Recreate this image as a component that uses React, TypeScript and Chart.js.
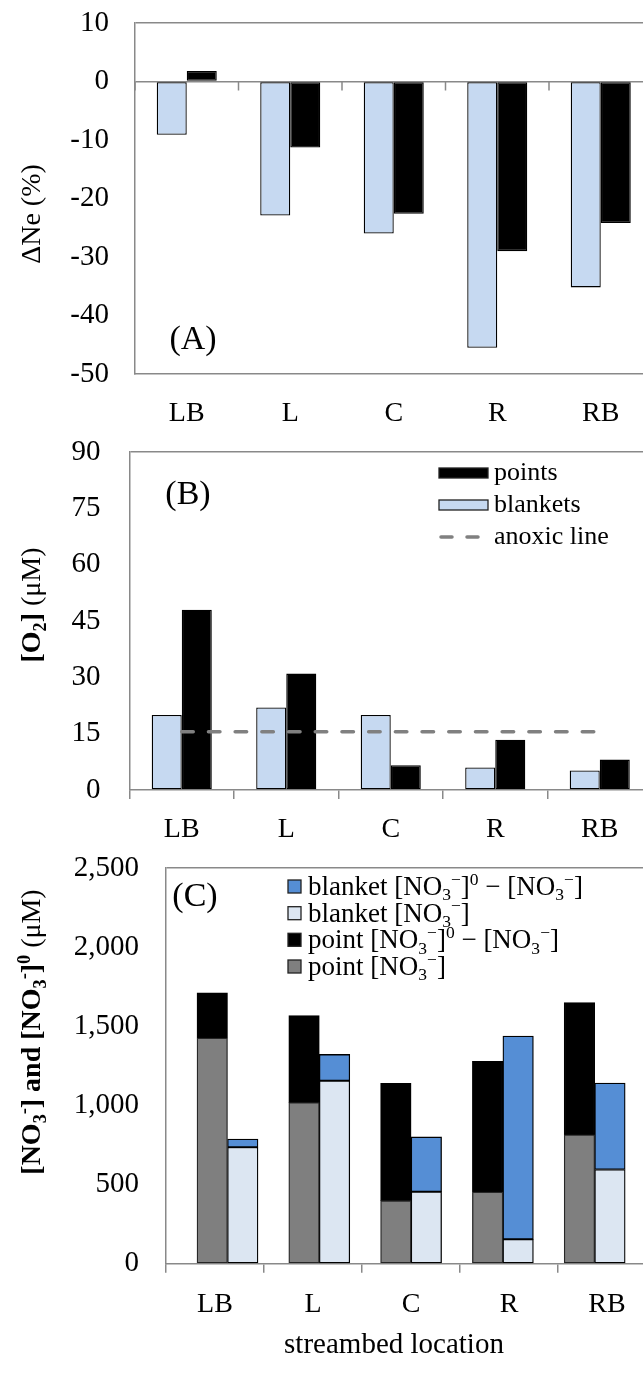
import React, { useEffect, useRef } from 'react';
import { Chart, registerables } from 'chart.js';

Chart.register(...registerables);

// ---------- data ----------
const categories = ['LB', 'L', 'C', 'R', 'RB'];

// Panel A: ΔNe (%)
const neBlankets = [-9.1, -22.9, -26.0, -45.5, -35.2];
const nePoints = [1.8, -11.3, -22.6, -29.0, -24.2];

// Panel B: [O2] (µM)
const o2Blankets = [20.0, 22.0, 20.0, 6.0, 5.2];
const o2Points = [48.0, 31.0, 6.6, 13.4, 8.1];
const anoxicLine = [15.5, 15.5, 15.5, 15.5, 15.5];

// Panel C: nitrate (µM), stacked
const pointNO3 = [1425, 1018, 398, 453, 814];
const pointRemoved = [287, 549, 741, 825, 835];
const blanketNO3 = [736, 1156, 455, 154, 595];
const blanketRemoved = [51, 166, 346, 1284, 546];

// axis ranges
const neRange = { min: -50, max: 10, step: 10 };
const o2Range = { min: 0, max: 90, step: 15 };
const no3Range = { min: 0, max: 2500, step: 500 };
// bar-position axis of panel C (bars sit on a slightly narrower band than the labels)
const no3BarAxis = { min: -0.67, max: 4.668 };

// labels
const titleA = [{ text: 'ΔNe (%)', bold: false }];
const titleB = [{ text: '[O₂]', bold: true }, { text: ' (μM)', bold: false }];
const titleC = [{ text: '[NO₃⁻] and [NO₃⁻]⁰', bold: true }, { text: ' (μM)', bold: false }];
const xTitleC = 'streambed location';

// ---------- style ----------
const SERIF = '"Liberation Serif", "Times New Roman", serif';
const LIGHT_BLUE = '#C6D9F1';
const BLUE = '#558ED5';
const PALE = '#DCE6F2';
const GRAY_BAR = '#7F7F7F';
const AXIS = '#898989';
const DASH = '#808080';
const TICK_SIZE = 29;
const CAT_SIZE = 28;
const TRANSPARENT = 'rgba(0,0,0,0)';

const SUBS = '₀₁₂₃₄₅₆₇₈₉';
const SUPS = '⁰¹²³⁴⁵⁶⁷⁸⁹';

type Part = { text: string; bold: boolean };

function runsOf(text: string, minus: string) {
  const runs: { t: string; k: number }[] = [];
  for (const ch of text) {
    let k = 0;
    let c = ch;
    const si = SUBS.indexOf(ch);
    const pi = SUPS.indexOf(ch);
    if (si >= 0) { k = 1; c = String(si); }
    else if (pi >= 0) { k = 2; c = String(pi); }
    else if (ch === '⁻') { k = 2; c = minus; }
    const last = runs[runs.length - 1];
    if (last && last.k === k) last.t += c;
    else runs.push({ t: c, k });
  }
  return runs;
}

function drawRich(ctx: CanvasRenderingContext2D, parts: Part[], x: number, y: number, size: number, align: 'left' | 'center', minus = '−') {
  const pieces: { t: string; font: string; w: number; dy: number }[] = [];
  let total = 0;
  for (const p of parts) {
    for (const r of runsOf(p.text, minus)) {
      const fs = r.k ? size * 0.65 : size;
      const font = `${p.bold ? 'bold ' : ''}${fs}px ${SERIF}`;
      ctx.font = font;
      const w = ctx.measureText(r.t).width;
      pieces.push({ t: r.t, font, w, dy: r.k === 1 ? size * 0.2 : r.k === 2 ? -size * 0.38 : 0 });
      total += w;
    }
  }
  let cx = align === 'center' ? x - total / 2 : x;
  ctx.textAlign = 'left';
  ctx.textBaseline = 'alphabetic';
  ctx.fillStyle = '#000';
  for (const p of pieces) {
    ctx.font = p.font;
    ctx.fillText(p.t, cx, y + p.dy);
    cx += p.w;
  }
}

function drawVerticalTitle(ctx: CanvasRenderingContext2D, parts: Part[], cx: number, cy: number, size: number, minus: string) {
  ctx.save();
  ctx.translate(cx, cy);
  ctx.rotate(-Math.PI / 2);
  drawRich(ctx, parts, 0, size * 0.33, size, 'center', minus);
  ctx.restore();
}

function drawLetter(ctx: CanvasRenderingContext2D, text: string, cx: number, cy: number) {
  ctx.save();
  ctx.font = `34px ${SERIF}`;
  ctx.fillStyle = '#000';
  ctx.textAlign = 'center';
  ctx.textBaseline = 'middle';
  ctx.fillText(text, cx, cy);
  ctx.restore();
}

function boundaryTicks(chart: any, atValue: number, len: number) {
  const xs = chart.scales.x;
  const ys = chart.scales.y;
  const n = chart.data.labels.length;
  const y0 = ys.getPixelForValue(atValue);
  const ctx = chart.ctx as CanvasRenderingContext2D;
  ctx.save();
  ctx.strokeStyle = AXIS;
  ctx.lineWidth = 1.5;
  for (let i = 0; i <= n; i++) {
    const x = xs.getPixelForValue(i - 0.5);
    ctx.beginPath();
    ctx.moveTo(x, y0);
    ctx.lineTo(x, y0 + len);
    ctx.stroke();
  }
  ctx.restore();
}

const tickFont = { family: SERIF, size: TICK_SIZE };
const catFont = { family: SERIF, size: CAT_SIZE };

function yGridColor(keep: number[]) {
  return (c: any) => (c.tick && keep.includes(c.tick.value) ? AXIS : TRANSPARENT);
}

function fixY(width: number) {
  return (s: any) => { s.width = width; s.paddingTop = 0; s.paddingBottom = 0; };
}
function fixX(height: number) {
  return (s: any) => { s.height = height; s.paddingLeft = 0; s.paddingRight = 0; };
}

// ---------- panel configs ----------
function configA(): any {
  return {
    type: 'bar',
    data: {
      labels: categories,
      datasets: [
        { label: 'blankets', data: neBlankets, backgroundColor: LIGHT_BLUE, borderColor: '#000', borderWidth: 1.3, borderSkipped: false },
        { label: 'points', data: nePoints, backgroundColor: '#000', borderColor: '#000', borderWidth: 1.3, borderSkipped: false },
      ],
    },
    options: {
      responsive: false,
      animation: false,
      events: [],
      layout: { padding: { top: 23, right: 17.5, left: 0, bottom: 0 } },
      datasets: { bar: { categoryPercentage: 0.58, barPercentage: 1 } },
      plugins: { legend: { display: false }, tooltip: { enabled: false } },
      scales: {
        x: {
          grid: { display: false, drawTicks: false },
          border: { display: true, color: AXIS, width: 1.5 },
          ticks: { font: catFont, color: '#000', padding: 23, maxRotation: 0 },
          afterFit: fixX(56),
        },
        y: {
          min: neRange.min, max: neRange.max,
          ticks: { stepSize: neRange.step, font: tickFont, color: '#000', padding: 26 },
          grid: { color: yGridColor([0, neRange.max]), lineWidth: 1.5, drawTicks: false },
          border: { display: true, color: AXIS, width: 1.5 },
          afterFit: fixY(135),
        },
      },
    },
    plugins: [{
      id: 'decoA',
      afterDraw(chart: any) {
        const ctx = chart.ctx as CanvasRenderingContext2D;
        boundaryTicks(chart, 0, 9);
        drawVerticalTitle(ctx, titleA, 31, 214, 28, '-');
        drawLetter(ctx, '(A)', 193, 340);
      },
    }],
  };
}

function configB(): any {
  return {
    type: 'bar',
    data: {
      labels: categories,
      datasets: [
        { label: 'blankets', data: o2Blankets, backgroundColor: LIGHT_BLUE, borderColor: '#000', borderWidth: 1.3, borderSkipped: false, order: 1 },
        { label: 'points', data: o2Points, backgroundColor: '#000', borderColor: '#000', borderWidth: 1.3, borderSkipped: false, order: 1 },
        { type: 'line', label: 'anoxic line', data: anoxicLine, borderColor: DASH, borderWidth: 3.5, borderDash: [11.5, 15.2], borderCapStyle: 'round', pointRadius: 0, fill: false, order: 0 },
      ],
    },
    options: {
      responsive: false,
      animation: false,
      events: [],
      layout: { padding: { top: 22, right: 8, left: 0, bottom: 0 } },
      datasets: { bar: { categoryPercentage: 0.575, barPercentage: 1 } },
      plugins: { legend: { display: false }, tooltip: { enabled: false } },
      scales: {
        x: {
          offset: true,
          grid: { offset: true, drawOnChartArea: false, drawTicks: true, tickLength: 9, color: AXIS, lineWidth: 1.5 },
          border: { display: true, color: AXIS, width: 1.5 },
          ticks: { font: catFont, color: '#000', padding: 14, maxRotation: 0 },
          afterFit: fixX(60),
        },
        y: {
          min: o2Range.min, max: o2Range.max,
          ticks: { stepSize: o2Range.step, font: tickFont, color: '#000', padding: 29 },
          grid: { color: yGridColor([o2Range.max]), lineWidth: 1.5, drawTicks: false },
          border: { display: true, color: AXIS, width: 1.5 },
          afterFit: fixY(129.5),
        },
      },
    },
    plugins: [{
      id: 'decoB',
      afterDraw(chart: any) {
        const ctx = chart.ctx as CanvasRenderingContext2D;
        drawVerticalTitle(ctx, titleB, 31, 175, 28, '-');
        drawLetter(ctx, '(B)', 188, 65);
        // legend: points, blankets, anoxic line
        const order = [1, 0, 2];
        const rows = [43, 75, 107];
        ctx.save();
        order.forEach((di, r) => {
          const ds = chart.data.datasets[di];
          const cy = rows[r];
          if (ds.type === 'line') {
            ctx.strokeStyle = ds.borderColor;
            ctx.lineWidth = ds.borderWidth;
            ctx.lineCap = 'round';
            ctx.setLineDash([11, 15]);
            ctx.beginPath();
            ctx.moveTo(441, cy);
            ctx.lineTo(486, cy);
            ctx.stroke();
            ctx.setLineDash([]);
          } else {
            ctx.fillStyle = ds.backgroundColor;
            ctx.fillRect(439, cy - 5, 49, 10);
            ctx.strokeStyle = '#222';
            ctx.lineWidth = 1.3;
            ctx.strokeRect(439, cy - 5, 49, 10);
          }
          ctx.fillStyle = '#000';
          ctx.font = `26px ${SERIF}`;
          ctx.textAlign = 'left';
          ctx.textBaseline = 'middle';
          ctx.fillText(ds.label, 494, cy);
        });
        ctx.restore();
      },
    }],
  };
}

function configC(): any {
  const pts = (arr: number[]) => arr.map((v, i) => ({ x: i, y: v }));
  const common = { xAxisID: 'xb', borderWidth: 1.3, borderSkipped: false };
  return {
    type: 'bar',
    data: {
      labels: categories,
      datasets: [
        { ...common, label: 'point [NO₃⁻]', data: pts(pointNO3), stack: 'point', backgroundColor: GRAY_BAR, borderColor: '#262626' },
        { ...common, label: 'point [NO₃⁻]⁰ − [NO₃⁻]', data: pts(pointRemoved), stack: 'point', backgroundColor: '#000', borderColor: '#000' },
        { ...common, label: 'blanket [NO₃⁻]', data: pts(blanketNO3), stack: 'blanket', backgroundColor: PALE, borderColor: '#000' },
        { ...common, label: 'blanket [NO₃⁻]⁰ − [NO₃⁻]', data: pts(blanketRemoved), stack: 'blanket', backgroundColor: BLUE, borderColor: '#000' },
      ],
    },
    options: {
      responsive: false,
      animation: false,
      events: [],
      layout: { padding: { top: 23, right: 6, left: 0, bottom: 0 } },
      datasets: { bar: { barThickness: 30.5 } },
      plugins: { legend: { display: false }, tooltip: { enabled: false } },
      scales: {
        x: {
          type: 'category',
          offset: true,
          grid: { offset: true, drawOnChartArea: false, drawTicks: true, tickLength: 9, color: AXIS, lineWidth: 1.5 },
          border: { display: true, color: AXIS, width: 1.5 },
          ticks: { font: catFont, color: '#000', padding: 15, maxRotation: 0 },
          afterFit: fixX(109.3),
        },
        xb: {
          type: 'linear',
          position: 'bottom',
          display: false,
          stacked: true,
          min: no3BarAxis.min,
          max: no3BarAxis.max,
          offset: false,
          ticks: { stepSize: 1, includeBounds: false },
        },
        y: {
          stacked: true,
          min: no3Range.min, max: no3Range.max,
          ticks: { stepSize: no3Range.step, font: tickFont, color: '#000', padding: 27, callback: (v: number) => v.toLocaleString('en-US') },
          grid: { color: yGridColor([no3Range.max]), lineWidth: 1.5, drawTicks: false },
          border: { display: true, color: AXIS, width: 1.5 },
          afterFit: fixY(166),
        },
      },
    },
    plugins: [{
      id: 'decoC',
      afterDraw(chart: any) {
        const ctx = chart.ctx as CanvasRenderingContext2D;
        drawVerticalTitle(ctx, titleC, 31, 187, 28, '-');
        drawLetter(ctx, '(C)', 195, 52);
        // x-axis title
        ctx.save();
        ctx.font = `29px ${SERIF}`;
        ctx.fillStyle = '#000';
        ctx.textAlign = 'center';
        ctx.textBaseline = 'middle';
        ctx.fillText(xTitleC, 394, 500);
        ctx.restore();
        // legend
        const order = [3, 2, 1, 0];
        const rows = [42, 68.7, 95.3, 122];
        ctx.save();
        order.forEach((di, r) => {
          const ds = chart.data.datasets[di];
          const cy = rows[r];
          ctx.fillStyle = ds.backgroundColor;
          ctx.fillRect(288, cy - 7, 13, 13);
          ctx.strokeStyle = '#222';
          ctx.lineWidth = 1.3;
          ctx.strokeRect(288, cy - 7, 13, 13);
          drawRich(ctx, [{ text: ds.label, bold: false }], 308, cy + 8, 27, 'left', '−');
        });
        ctx.restore();
      },
    }],
  };
}

function ChartCanvas({ make, top, width, height }: { make: () => any; top: number; width: number; height: number }) {
  const ref = useRef<HTMLCanvasElement>(null);
  useEffect(() => {
    if (!ref.current) return;
    const chart = new Chart(ref.current, make());
    return () => chart.destroy();
  }, []);
  return (
    <canvas
      ref={ref}
      width={width}
      height={height}
      style={{ position: 'absolute', left: 0, top, width, height }}
    />
  );
}

export default function App() {
  return (
    <div style={{ position: 'absolute', left: 0, top: 0, width: 643, height: 1373, overflow: 'hidden', background: '#fff' }}>
      <ChartCanvas make={configA} top={0} width={670} height={430} />
      <ChartCanvas make={configB} top={430} width={660} height={420} />
      <ChartCanvas make={configC} top={845} width={662} height={528} />
    </div>
  );
}
